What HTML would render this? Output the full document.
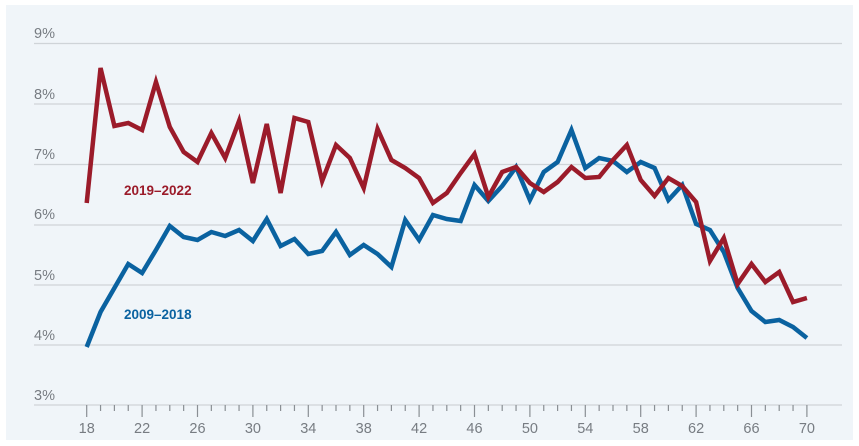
<!DOCTYPE html>
<html><head><meta charset="utf-8"><style>
body{margin:0;background:#fff;}
svg{display:block;font-family:"Liberation Sans",sans-serif;}
</style></head><body>
<svg width="859" height="446" viewBox="0 0 859 446">
<rect x="6" y="5" width="847" height="435" fill="#f0f5f9"/>
<g stroke="#cfd4d8" stroke-width="1.3">
<line x1="34" x2="842" y1="43.5" y2="43.5"/>
<line x1="34" x2="842" y1="104" y2="104"/>
<line x1="34" x2="842" y1="164.5" y2="164.5"/>
<line x1="34" x2="842" y1="225" y2="225"/>
<line x1="34" x2="842" y1="285" y2="285"/>
<line x1="34" x2="842" y1="345" y2="345"/>
<line x1="34" x2="842" y1="405" y2="405"/>
</g>
<g fill="#777c82" font-size="14.5">
<text x="34" y="38">9%</text><text x="34" y="99">8%</text><text x="34" y="159">7%</text>
<text x="34" y="219">6%</text><text x="34" y="280">5%</text><text x="34" y="340">4%</text><text x="34" y="400">3%</text>
</g>
<path fill="none" stroke="#8a8f94" stroke-width="1.2" d="M86.7,405 v12 m13.85,-12 v6 m13.85,-6 v6 m13.85,-6 v6 m13.85,-6 v12 m13.85,-12 v6 m13.85,-6 v6 m13.85,-6 v6 m13.85,-6 v12 m13.85,-12 v6 m13.85,-6 v6 m13.85,-6 v6 m13.85,-6 v12 m13.85,-12 v6 m13.85,-6 v6 m13.85,-6 v6 m13.85,-6 v12 m13.85,-12 v6 m13.85,-6 v6 m13.85,-6 v6 m13.85,-6 v12 m13.85,-12 v6 m13.85,-6 v6 m13.85,-6 v6 m13.85,-6 v12 m13.85,-12 v6 m13.85,-6 v6 m13.85,-6 v6 m13.85,-6 v12 m13.85,-12 v6 m13.85,-6 v6 m13.85,-6 v6 m13.85,-6 v12 m13.85,-12 v6 m13.85,-6 v6 m13.85,-6 v6 m13.85,-6 v12 m13.85,-12 v6 m13.85,-6 v6 m13.85,-6 v6 m13.85,-6 v12 m13.85,-12 v6 m13.85,-6 v6 m13.85,-6 v6 m13.85,-6 v12 m13.85,-12 v6 m13.85,-6 v6 m13.85,-6 v6 m13.85,-6 v12 m13.85,-12 v6 m13.85,-6 v6 m13.85,-6 v6 m13.85,-6 v12"/>
<g fill="#777c82" font-size="14.5" text-anchor="middle">
<text x="86.7" y="433">18</text><text x="142.1" y="433">22</text><text x="197.5" y="433">26</text><text x="252.9" y="433">30</text>
<text x="308.3" y="433">34</text><text x="363.7" y="433">38</text><text x="419.1" y="433">42</text><text x="474.5" y="433">46</text>
<text x="529.9" y="433">50</text><text x="585.3" y="433">54</text><text x="640.7" y="433">58</text><text x="696.1" y="433">62</text>
<text x="751.5" y="433">66</text><text x="806.9" y="433">70</text>
</g>
<g transform="translate(86.7,0) scale(13.85,1)" fill="none" stroke-width="4.5" stroke-linejoin="miter">
<polyline vector-effect="non-scaling-stroke" stroke="#0a62a0" points="0,347 1,312 2,288 3,264 4,273 5,250 6,226 7,237 8,240 9,232 10,236 11,230 12,241 13,219 14,246 15,239 16,254 17,251 18,232 19,255 20,245 21,254 22,267 23,220 24,240 25,215 26,219 27,221 28,185 29,201 30,186 31,167 32,200 33,172 34,162 35,130 36,168 37,158 38,161 39,172 40,162 41,168 42,200 43,185 44,224 45,230 46,252 47,288 48,311 49,322 50,320 51,327 52,338"/>
<polyline vector-effect="non-scaling-stroke" stroke="#9b1b2a" points="0,203 1,68 2,126 3,123 4,130 5,82 6,127 7,152 8,162 9,133 10,158 11,121 12,183 13,124 14,193 15,118 16,122 17,181 18,145 19,158 20,188 21,129 22,160 23,168 24,178 25,203 26,193 27,173 28,154 29,197 30,172 31,167 32,183 33,192 34,182 35,167 36,178 37,177 38,160 39,145 40,180 41,196 42,178 43,186 44,202 45,261 46,238 47,284 48,264 49,282 50,272 51,302 52,298"/>
</g>
<text x="124" y="195" fill="#9b1b2a" font-size="13.5" font-weight="bold">2019–2022</text>
<text x="124" y="319" fill="#0a62a0" font-size="13.5" font-weight="bold">2009–2018</text>
</svg>
</body></html>
